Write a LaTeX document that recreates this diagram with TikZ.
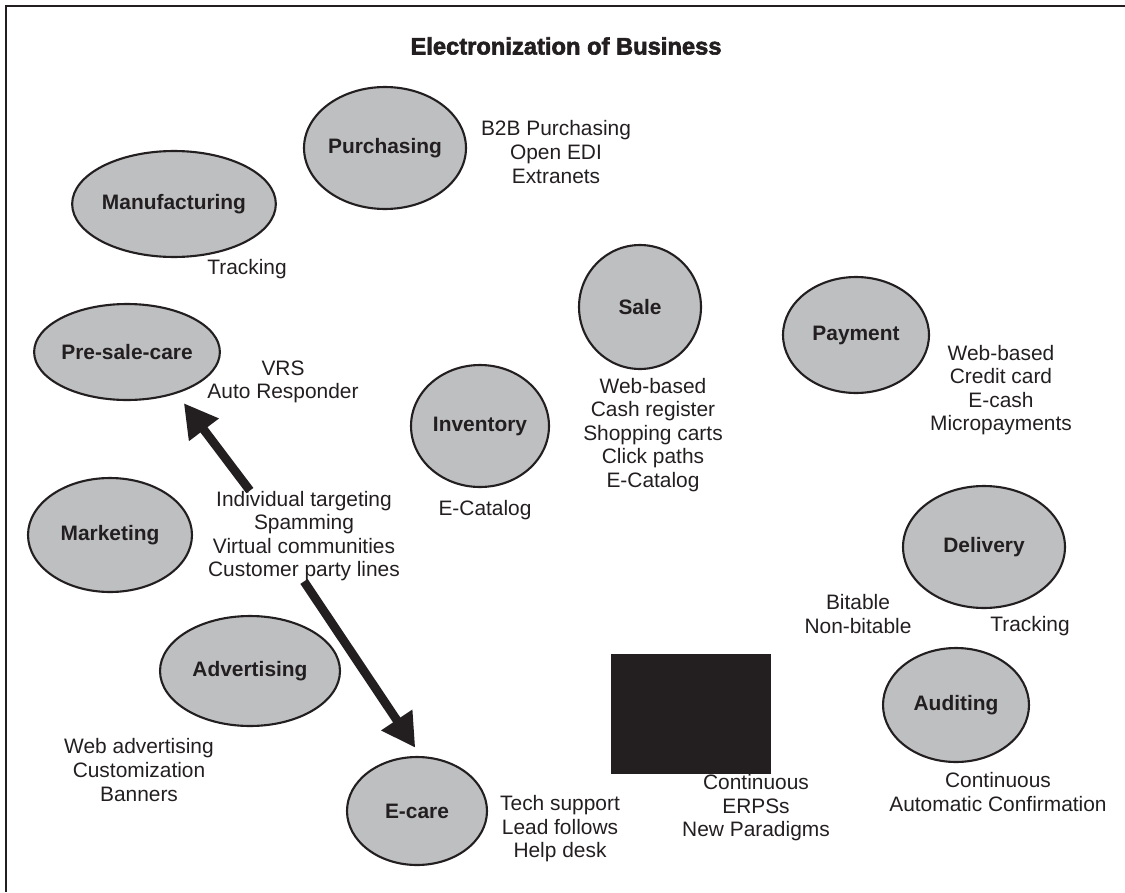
\documentclass[tikz,border=0pt]{standalone}
\usepackage{fontspec}
\setmainfont{Liberation Sans}
\newfontfamily\titlefont{Liberation Sans}[BoldFeatures={FakeBold=2.5}]
\usetikzlibrary{shapes.geometric,arrows.meta}

\definecolor{areagray}{RGB}{190,191,193}
\definecolor{ink}{RGB}{35,31,32}

\tikzstyle{area} = [ellipse, draw=ink, fill=areagray, line width=1.2pt, inner sep=0pt, text=ink, font=\fontsize{11.9}{13.4}\selectfont\bfseries]
\tikzstyle{note} = [align=center, inner sep=0pt, text=ink, font=\fontsize{11.9}{13.4}\selectfont]
\tikzstyle{push} = [draw=ink, line width=5pt, -{Triangle[length=19pt,width=20pt]}]

\begin{document}
\begin{tikzpicture}[x=0.02cm, y=-0.02cm]
\useasboundingbox (0,0) rectangle (1125,892);
% frame, only top and left edges in view
\draw[ink, line width=1.7pt] (1125,6) -- (6,6) -- (6,892);

\node[text=ink, font=\titlefont\bfseries\fontsize{13.5}{15}\selectfont] (title) at (566,46) {Electronization of Business};

% business areas
\node[area, minimum width=3.24cm, minimum height=2.44cm] (purch) at (385,148) {Purchasing};
\node[area, minimum width=4.04cm, minimum height=2.12cm] (mfg) at (174,204) {Manufacturing};
\node[area, minimum width=3.68cm, minimum height=1.92cm] (presale) at (127,352) {Pre-sale-care};
\node[area, minimum width=3.28cm, minimum height=2.28cm] (mkt) at (110,535) {Marketing};
\node[area, minimum width=3.6cm, minimum height=2.2cm] (adv) at (250,671) {Advertising};
\node[area, minimum width=2.8cm, minimum height=2.16cm] (ecare) at (417,811) {E-care};
\node[area, minimum width=2.76cm, minimum height=2.44cm] (inv) at (480,426) {Inventory};
\node[area, minimum width=2.44cm, minimum height=2.48cm] (sale) at (640,307) {Sale};
\node[area, minimum width=2.92cm, minimum height=2.32cm] (pay) at (856,335) {Payment};
\node[area, minimum width=3.24cm, minimum height=2.44cm] (deliv) at (984,547) {Delivery};
\node[area, minimum width=2.92cm, minimum height=2.28cm] (audit) at (956,705) {Auditing};
\node[fill=ink, minimum width=3.2cm, minimum height=2.4cm, inner sep=0pt] (erp) at (691,714) {};

% tools per area
\node[note] (purchtools) at (556,152) {B2B Purchasing\\Open EDI\\Extranets};
\node[note] (mfgtools) at (247,269) {Tracking};
\node[note] (presaletools) at (283,382) {VRS\\Auto Responder};
\node[note] (tactics) at (304,536) {Individual targeting\\Spamming\\Virtual communities\\Customer party lines};
\node[note] (invtools) at (485,510) {E-Catalog};
\node[note] (saletools) at (653,435) {Web-based\\Cash register\\Shopping carts\\Click paths\\E-Catalog};
\node[note] (paytools) at (1001,390) {Web-based\\Credit card\\E-cash\\Micropayments};
\node[note] (goods) at (858,614) {Bitable\\Non-bitable};
\node[note] (delivtools) at (1030,626) {Tracking};
\node[note] (audittools) at (998,792) {Continuous\\Automatic Confirmation};
\node[note] (advtools) at (139,770) {Web advertising\\Customization\\Banners};
\node[note] (caretools) at (560,829) {Tech support\\Lead follows\\Help desk};
\node[note] (erptools) at (756,808) {Continuous\\ERPSs\\New Paradigms};

\draw[push, shorten >=6.8pt] (tactics.140) -- (presale.-40);
\draw[push, shorten >=5.7pt] (tactics.south) -- (ecare.86);

\end{tikzpicture}
\end{document}
